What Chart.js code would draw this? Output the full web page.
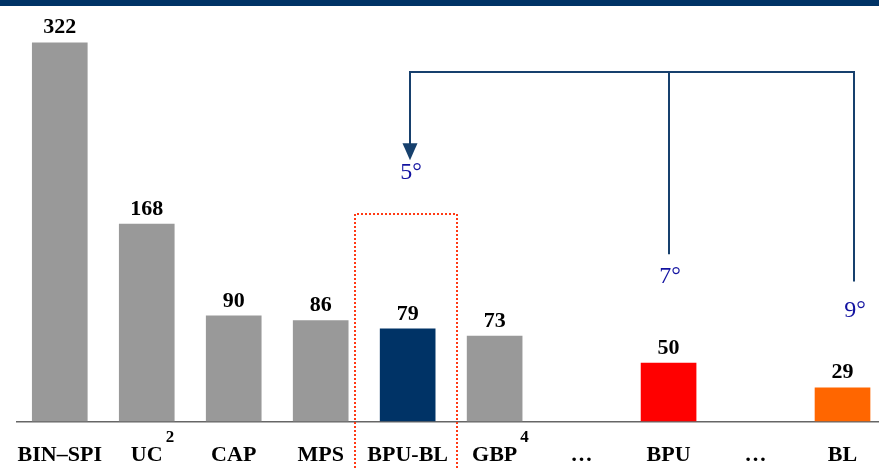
<!DOCTYPE html>
<html>
<head>
<meta charset="utf-8">
<script src="https://cdn.jsdelivr.net/npm/chart.js@4/dist/chart.umd.min.js"></script>
<style>
    html, body { margin: 0; padding: 0; background: #fff; overflow: hidden; }
    #wrap { position: relative; width: 894px; height: 490px; margin-left: -4px; }
</style>
</head>
<body>
<div id="wrap"><canvas id="chart"></canvas></div>
<script>
// chart data
const categories = ["BIN\u2013SPI", "UC", "CAP", "MPS", "BPU-BL", "GBP", "\u2026", "BPU", "\u2026", "BL"];
const values = [322, 168, 90, 86, 79, 73, null, 50, null, 29];
const barColors = ["#999999", "#999999", "#999999", "#999999", "#003366", "#999999", null, "#ff0000", null, "#ff6600"];
const superscripts = [null, "2", null, null, null, "4", null, null, null, null];
// angle annotation: which bars, and the angle text
const angleBars = [4, 7, 9];
const angleLabels = ["5\u00b0", "7\u00b0", "9\u00b0"];
const highlightBar = 4;

const serif = "'Liberation Serif', 'Times New Roman', serif";

const extras = {
    id: "extras",
    beforeDraw(chart) {
        let ctx = chart.ctx;
        ctx.save();
        ctx.fillStyle = "#003366";
        ctx.fillRect(0, 0, chart.width, 6);
        ctx.restore();
    },
    afterDraw(chart) {
        let ctx = chart.ctx;
        let x = chart.scales.x;
        let y = chart.scales.y;
        let meta = chart.getDatasetMeta(0);
        ctx.save();

        // value labels on top of bars
        ctx.font = "bold 22px " + serif;
        ctx.fillStyle = "#000";
        ctx.textAlign = "center";
        ctx.textBaseline = "alphabetic";
        meta.data.forEach((bar, i) => {
            if (values[i] == null) return;
            ctx.fillText(String(values[i]), bar.x, bar.y - 9);
        });

        // superscripts after some category labels
        ctx.textAlign = "left";
        superscripts.forEach((s, i) => {
            if (!s) return;
            ctx.font = "bold 22px " + serif;
            let w = ctx.measureText(categories[i]).width;
            ctx.font = "bold 17px " + serif;
            ctx.fillText(s, x.getPixelForValue(i) + w / 2 + 3, x.top + 20);
        });

        // dotted box round the highlighted bar
        let cw = x.width / categories.length;
        let cx = x.getPixelForValue(highlightBar);
        let bl = Math.round(cx - cw * 0.6);
        let br = Math.round(cx + cw * 0.57);
        let bt = Math.round(y.getPixelForValue(176));
        ctx.strokeStyle = "#ff3a14";
        ctx.lineWidth = 2;
        ctx.setLineDash([2, 2]);
        ctx.beginPath();
        ctx.moveTo(bl, chart.height + 2);
        ctx.lineTo(bl, bt);
        ctx.lineTo(br, bt);
        ctx.lineTo(br, chart.height + 2);
        ctx.stroke();
        ctx.setLineDash([]);

        // bracket joining the angle bars
        let dx = [2, 0, 11];
        let xs = angleBars.map((b, i) => Math.round(x.getPixelForValue(b) + dx[i]));
        let topY = Math.round(y.getPixelForValue(297));
        let ends = [y.getPixelForValue(233), y.getPixelForValue(142), y.getPixelForValue(119)];
        ctx.strokeStyle = "#17406d";
        ctx.lineWidth = 2;
        ctx.beginPath();
        ctx.moveTo(xs[0], ends[0]);
        ctx.lineTo(xs[0], topY);
        ctx.lineTo(xs[2], topY);
        ctx.lineTo(xs[2], ends[2]);
        ctx.moveTo(xs[1], topY);
        ctx.lineTo(xs[1], ends[1]);
        ctx.stroke();
        // arrow head
        let tip = y.getPixelForValue(222);
        ctx.fillStyle = "#17406d";
        ctx.beginPath();
        ctx.moveTo(xs[0], tip);
        ctx.lineTo(xs[0] - 7.5, tip - 17);
        ctx.lineTo(xs[0] + 7.5, tip - 17);
        ctx.closePath();
        ctx.fill();

        // angle labels
        let labelY = [211, 123, 94];
        ctx.font = "24px " + serif;
        ctx.fillStyle = "#1212a0";
        ctx.textAlign = "center";
        ctx.textBaseline = "middle";
        angleLabels.forEach((t, i) => {
            ctx.fillText(t, xs[i] + 1, y.getPixelForValue(labelY[i]));
        });
        ctx.restore();
    }
};

function main() {
    new Chart(document.getElementById("chart"), {
        type: "bar",
        data: {
            labels: categories,
            datasets: [{
                data: values,
                backgroundColor: barColors,
                categoryPercentage: 1,
                barPercentage: 0.64
            }]
        },
        options: {
            responsive: true,
            maintainAspectRatio: false,
            animation: false,
            layout: { padding: { left: 12, right: 4, top: 0, bottom: 0 } },
            plugins: { legend: { display: false }, tooltip: { enabled: false } },
            scales: {
                x: {
                    grid: { display: false, drawTicks: false },
                    border: { display: true, color: "#666666", width: 1.5 },
                    ticks: {
                        autoSkip: false,
                        maxRotation: 0,
                        padding: 21,
                        color: "#000",
                        font: { family: serif, size: 22, weight: "bold" }
                    }
                },
                y: { display: false, min: 0, max: 358 }
            }
        },
        plugins: [extras]
    });
}

document.addEventListener("DOMContentLoaded", main);
</script>
</body>
</html>
